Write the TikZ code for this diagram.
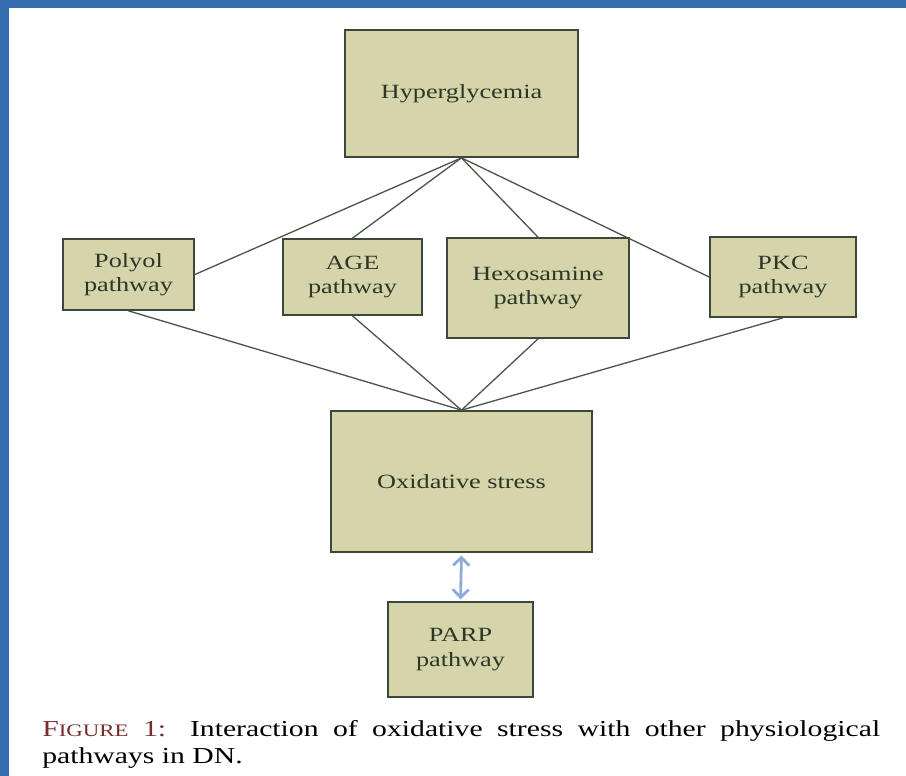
\documentclass[tikz,border=0pt]{standalone}
\usepackage{fontspec}
\setmainfont{Liberation Serif}[FakeStretch=1.3]
\usetikzlibrary{arrows.meta}

\definecolor{bandblue}{RGB}{52,110,176}
\definecolor{boxfill}{RGB}{213,212,170}
\definecolor{boxline}{RGB}{60,72,56}
\definecolor{boxtext}{RGB}{45,55,40}
\definecolor{linkcol}{RGB}{78,86,74}
\definecolor{arrowblue}{RGB}{143,170,220}
\definecolor{capred}{RGB}{120,45,45}

\begin{document}
\begin{tikzpicture}[x=0.02cm, y=-0.02cm,
	box/.style={draw=boxline, fill=boxfill, line width=1pt, inner sep=0pt, align=center,
		text=boxtext, font=\fontsize{11.5}{14}\selectfont},
	link/.style={draw=linkcol, line width=0.75pt},
	both/.style={draw=arrowblue, line width=1.6pt, {Straight Barb[length=1.6mm,width=3.2mm]}-{Straight Barb[length=1.6mm,width=3.2mm]}}]
	\useasboundingbox (0,0) rectangle (906,776);
	\fill[white] (0,0) rectangle (906,776);
	\fill[bandblue] (0,0) rectangle (906,8);
	\fill[bandblue] (0,0) rectangle (9,776);

	% boxes
	\node[box, minimum width=4.66cm, minimum height=2.54cm] (hyper) at (461.5,93.5) {\raisebox{-4pt}{Hyperglycemia}};
	\node[box, minimum width=2.62cm, minimum height=1.42cm] (polyol) at (128.5,274.5) {Polyol\\pathway};
	\node[box, minimum width=2.78cm, minimum height=1.52cm] (age) at (352.5,277) {AGE\\pathway};
	\node[box, minimum width=3.64cm, minimum height=2cm] (hexo) at (538,288) {Hexosamine\\pathway};
	\node[box, minimum width=2.92cm, minimum height=1.6cm] (pkc) at (783,277) {PKC\\pathway};
	\node[box, minimum width=5.22cm, minimum height=2.82cm] (oxid) at (461.5,481.5) {Oxidative stress};
	\node[box, minimum width=2.9cm, minimum height=1.9cm] (parp) at (460.5,649.5) {PARP\\pathway};

	% links
	\draw[link] (hyper.south) -- (polyol.east);
	\draw[link] (hyper.south) -- (age.north);
	\draw[link] (hyper.south) -- (hexo.north);
	\draw[link] (hyper.south) -- (pkc.west);
	\draw[link] (polyol.south) -- (oxid.north);
	\draw[link] (age.south) -- (oxid.north);
	\draw[link] (hexo.south) -- (oxid.north);
	\draw[link] (pkc.south) -- (oxid.north);
	\draw[both, shorten <=1.5pt, shorten >=1pt] (oxid.south) -- (parp.north);

	% caption
	\node[anchor=north west, inner sep=0pt, text width=16.76cm, align=justify,
		font=\fontsize{13}{15.5}\selectfont] (caption) at (42,720)
		{\textcolor{capred}{F{\fontsize{10}{12}\selectfont IGURE} 1:} Interaction of oxidative stress with other physiological\linebreak pathways in DN.};
\end{tikzpicture}
\end{document}
